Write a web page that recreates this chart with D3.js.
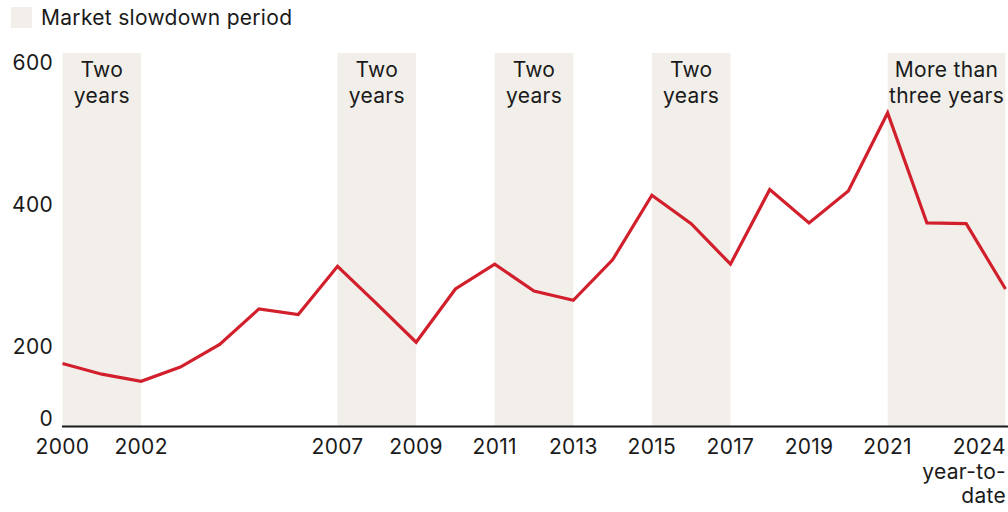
<!DOCTYPE html>
<html>
<head>
<meta charset="utf-8">
<script src="https://cdn.jsdelivr.net/npm/d3@7"></script>
<style>
  html, body { margin: 0; padding: 0; background: #fff; }
  svg { display: block; font-family: "Inter", "Lato", sans-serif; letter-spacing: 0.3px; }
</style>
</head>
<body>
<svg id="chart" width="1008" height="512"></svg>
<script>
// Annual values, 2000 to 2024 (2024 is year-to-date)
const years = d3.range(2000, 2025);
const values = [176, 161, 151, 171, 203, 253, 245, 313, 260, 206, 281, 316, 278, 265, 322,
                413, 373, 316, 421, 374, 419, 529, 374, 373, 281];

// Slowdown periods and their labels
const periodStarts = [2000, 2007, 2011, 2015, 2021];
const periodEnds   = [2002, 2009, 2013, 2017, 2024];
const periodLabels = [["Two", "years"], ["Two", "years"], ["Two", "years"], ["Two", "years"], ["More than", "three years"]];

const tickYears = [2000, 2002, 2007, 2009, 2011, 2013, 2015, 2017, 2019, 2021, 2024];
const yTicks = [200, 400, 600];
const legendLabel = "Market slowdown period";

const svg = d3.select("#chart");
const W = 1008;
const baseY = 426, topY = 53;
const fs = 21;

const x = d3.scaleLinear().domain([2000, 2024]).range([62.5, 1005.5]);
const y = d3.scaleLinear().domain([200, 600]).range([346.5, 62.5]);

const bandFill = "#f2efea";
const red = "#d21f2c";
const ink = "#1a1a1a";

// Legend
svg.append("rect").attr("x", 11).attr("y", 7).attr("width", 21).attr("height", 21).attr("fill", bandFill);
svg.append("text").attr("x", 41).attr("y", 25).attr("font-size", fs).attr("fill", ink).text(legendLabel);

// Shaded periods
const periods = periodStarts.map((s, i) => ({ s, e: periodEnds[i], label: periodLabels[i] }));
const pg = svg.append("g");
pg.selectAll("rect").data(periods).join("rect")
  .attr("x", d => x(d.s)).attr("y", topY)
  .attr("width", d => x(d.e) - x(d.s)).attr("height", baseY - topY)
  .attr("fill", bandFill);
pg.selectAll("text").data(periods).join("text")
  .attr("text-anchor", "middle")
  .attr("font-size", fs).attr("fill", ink)
  .each(function (d) {
    const t = d3.select(this);
    d.label.forEach((line, k) => {
      t.append("tspan").attr("x", (x(d.s) + x(d.e)) / 2).attr("y", 77 + k * 26).text(line);
    });
  });

// Y axis labels
const ya = svg.append("g").attr("font-size", fs).attr("fill", ink).attr("text-anchor", "end");
ya.selectAll("text.tick").data(yTicks).join("text").attr("class", "tick")
  .attr("x", 53).attr("y", d => y(d) + 7.5).text(d => d);
ya.append("text").attr("x", 53).attr("y", baseY).text("0");

// Line
const line = d3.line().x((d, i) => x(years[i])).y(d => y(d));
svg.append("path").datum(values)
  .attr("d", line).attr("fill", "none")
  .attr("stroke", red).attr("stroke-width", 3.2).attr("stroke-linejoin", "miter");

// Baseline
svg.append("line").attr("x1", 62).attr("x2", W).attr("y1", baseY + 0.5).attr("y2", baseY + 0.5)
  .attr("stroke", ink).attr("stroke-width", 2);

// X axis labels
const xa = svg.append("g").attr("font-size", fs).attr("fill", ink);
tickYears.forEach(yr => {
  const t = xa.append("text").attr("y", 454);
  if (yr === 2024) {
    t.attr("text-anchor", "end");
    ["2024", "year-to-", "date"].forEach((s, k) =>
      t.append("tspan").attr("x", 1006).attr("y", 454 + k * 24.5).text(s));
  } else {
    t.attr("text-anchor", "middle").attr("x", x(yr)).text(yr);
  }
});
</script>
</body>
</html>
